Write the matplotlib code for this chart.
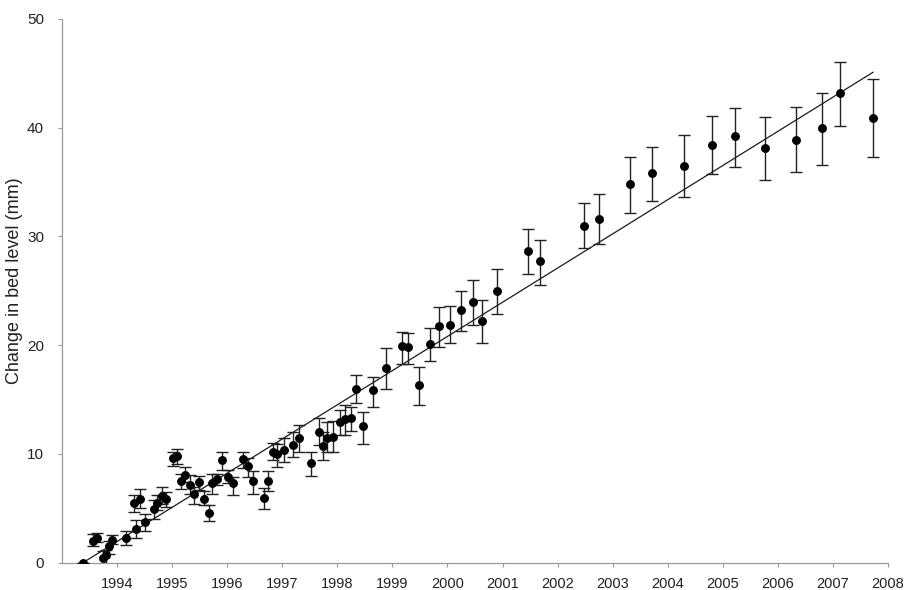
import numpy as np
import matplotlib
matplotlib.use("Agg")
import matplotlib.pyplot as plt

plt.rcParams['font.family'] = ['Liberation Sans', 'DejaVu Sans']

# survey dates (decimal years) and mean change in bed level (mm)
years = [1993.38, 1993.57, 1993.63, 1993.74, 1993.79, 1993.86, 1993.90,
         1994.17, 1994.35, 1994.31, 1994.41, 1994.50, 1994.67, 1994.72,
         1994.81, 1994.88, 1995.01, 1995.08, 1995.16, 1995.23, 1995.33,
         1995.40, 1995.49, 1995.57, 1995.67, 1995.73, 1995.81, 1995.90,
         1996.02, 1996.10, 1996.29, 1996.37, 1996.47, 1996.67, 1996.74,
         1996.83, 1996.90, 1997.03, 1997.19, 1997.30, 1997.52, 1997.67,
         1997.74, 1997.82, 1997.92, 1998.04, 1998.13, 1998.25, 1998.33,
         1998.47, 1998.65, 1998.88, 1999.18, 1999.29, 1999.49, 1999.69,
         1999.85, 2000.04, 2000.24, 2000.46, 2000.63, 2000.90, 2001.47,
         2001.68, 2002.48, 2002.76, 2003.31, 2003.71, 2004.29, 2004.80,
         2005.22, 2005.77, 2006.33, 2006.81, 2007.13, 2007.73]

change = [0.0, 2.0, 2.3, 0.4, 0.7, 1.5, 2.1,
          2.3, 3.1, 5.5, 5.9, 3.7, 4.9, 5.5,
          6.15, 5.85, 9.6, 9.8, 7.5, 8.05, 7.1,
          6.3, 7.4, 5.9, 4.6, 7.3, 7.7, 9.4,
          7.9, 7.3, 9.5, 8.9, 7.5, 5.95, 7.5,
          10.2, 10.0, 10.4, 10.85, 11.5, 9.15, 12.05,
          10.75, 11.5, 11.6, 12.9, 13.2, 13.3, 15.95,
          12.55, 15.9, 17.9, 19.9, 19.8, 16.3, 20.1,
          21.75, 21.9, 23.2, 24.0, 22.2, 25.0, 28.7,
          27.7, 31.0, 31.6, 34.8, 35.8, 36.5, 38.4,
          39.2, 38.1, 38.9, 40.0, 43.2, 40.9]

# lower and upper ends of the error bars (mm)
err_low = [0.0, 1.5, 1.9, -0.3, -0.2, 0.8, 1.7,
           1.6, 2.3, 4.7, 5.0, 2.9, 4.0, 4.8,
           5.4, 5.15, 8.9, 9.1, 6.8, 7.4, 6.3,
           5.4, 6.7, 5.3, 3.8, 6.3, 7.1, 8.5,
           7.3, 6.2, 8.75, 7.85, 6.35, 4.9, 6.6,
           9.4, 8.8, 9.3, 9.7, 10.2, 7.95, 10.85,
           9.45, 10.15, 10.15, 11.7, 11.7, 12.15, 14.65,
           10.95, 14.35, 16.0, 18.3, 18.3, 14.5, 18.5,
           19.85, 20.2, 21.3, 21.85, 20.2, 22.85, 26.5,
           25.5, 28.9, 29.3, 32.2, 33.3, 33.6, 35.7,
           36.4, 35.2, 35.9, 36.6, 40.2, 37.3]

err_high = [0.0, 2.6, 2.7, 1.1, 1.2, 2.0, 2.5,
            2.9, 3.9, 6.2, 6.8, 4.5, 5.8, 6.2,
            7.0, 6.5, 10.2, 10.45, 8.15, 8.8, 8.05,
            7.0, 8.0, 6.6, 5.3, 8.15, 8.2, 10.2,
            8.55, 7.9, 10.2, 9.6, 8.4, 6.85, 8.45,
            11.05, 10.9, 11.45, 12.0, 12.7, 10.2, 13.3,
            12.0, 12.9, 13.05, 14.05, 14.5, 14.35, 17.3,
            13.9, 17.1, 19.7, 21.2, 21.1, 18.0, 21.6,
            23.5, 23.6, 25.0, 26.0, 24.15, 27.05, 30.7,
            29.7, 33.1, 33.9, 37.3, 38.2, 39.3, 41.1,
            41.8, 41.0, 41.9, 43.2, 46.0, 44.5]

# linear trend through the record
trend_years = [1993.38, 2007.73]
trend_values = [0.0, 45.1]

year_ticks = list(range(1994, 2009))
level_ticks = [0, 10, 20, 30, 40, 50]

x = np.array(years)
y = np.array(change)
yerr = np.vstack([y - np.array(err_low), np.array(err_high) - y])

fig = plt.figure(figsize=(9.07, 5.90), dpi=100)
ax = fig.add_axes([0.0684, 0.0463, 0.9106, 0.9216])

ax.plot(trend_years, trend_values, color='#1a1a1a', lw=0.9, zorder=2)
ax.errorbar(x, y, yerr=yerr, fmt='o', color='black', ecolor='#222222',
            elinewidth=1.0, capsize=4.5, capthick=1.0, markersize=5.4, zorder=3)

ax.set_xlim(1993, 2008)
ax.set_ylim(0, 50)
ax.set_xticks(year_ticks)
ax.set_xticklabels([str(v) for v in year_ticks])
ax.set_yticks(level_ticks)

for side in ['top', 'right']:
    ax.spines[side].set_visible(False)
for side in ['left', 'bottom']:
    ax.spines[side].set_color('#9a9a9a')
    ax.spines[side].set_linewidth(0.9)

ax.tick_params(axis='x', direction='out', length=3, width=0.8, color='#9a9a9a',
               labelsize=10.5, labelcolor='#222222', pad=7)
ax.tick_params(axis='y', direction='out', length=3, width=0.8, color='#9a9a9a',
               labelsize=11, labelcolor='#222222', pad=10)

# y label sits in the narrow left margin
fig.text(0.016, 0.525, 'Change in bed level (mm)', rotation=90,
         ha='center', va='center', fontsize=13, color='#222222')

fig.savefig('out.png', dpi=100)
